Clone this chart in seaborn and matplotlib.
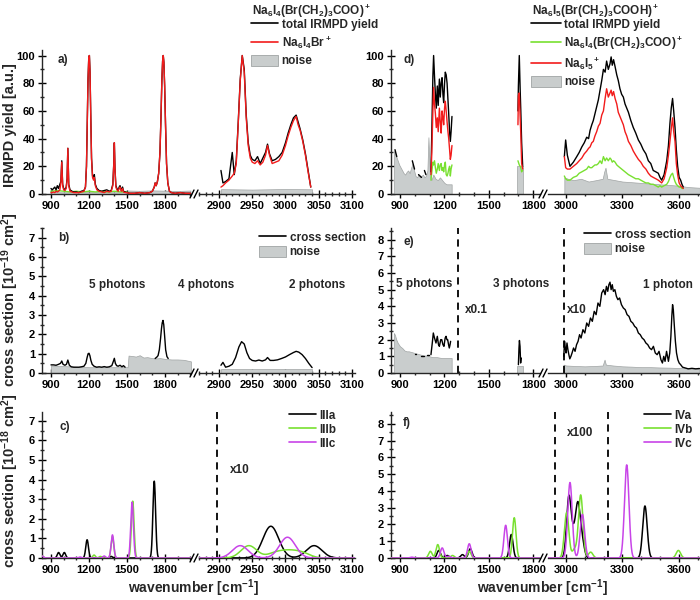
import numpy as np
import seaborn as sns
import matplotlib.pyplot as plt
from matplotlib.lines import Line2D
from matplotlib.patches import Patch
from matplotlib.ticker import FixedLocator, MultipleLocator

nan = np.nan

# ---------------- data ----------------
# a) Na6I4(Br(CH2)3COO)+  IRMPD yield
a1_wn = [900, 910, 920, 930, 940, 950, 960, 970, 978, 985,
         992, 1000, 1010, 1020, 1027, 1033, 1040, 1050, 1065, 1080,
         1100, 1120, 1140, 1160, 1172, 1180, 1186, 1192, 1198, 1203,
         1208, 1214, 1220, 1228, 1236, 1242, 1250, 1262, 1280, 1300,
         1320, 1340, 1360, 1375, 1388, 1395, 1400, 1405, 1412, 1420,
         1430, 1438, 1445, 1455, 1465, 1472, 1485, 1500, 1520, 1560,
         1600, 1640, 1680, 1700, 1715, 1722, 1730, 1740, 1750, 1760,
         1768, 1775, 1781, 1786, 1791, 1797, 1804, 1812, 1822, 1835,
         1850, 1880, 1920, 1960, 2000]
a1_frag = [1, 1, 1.5, 1, 2, 1.5, 2, 3, 8, 23,
           6, 3, 2.5, 4, 10, 33, 6, 2, 1.5, 1,
           1, 1, 1.5, 2, 5, 20, 50, 82, 98, 100,
           88, 55, 25, 12, 10, 12, 6, 3, 2, 1.5,
           1, 2, 1.5, 2, 6, 20, 37, 18, 5, 3,
           2, 4, 5, 2, 4, 1.5, 1, 1, 0.5, 0.5,
           1, 0.5, 1, 2, 5, 8, 6, 9, 15, 30,
           55, 82, 96, 100, 95, 78, 50, 22, 8, 2,
           1, 0.5, 1, 0.5, 0.5]
a1_total = [4, 3, 4, 5, 3, 6, 4, 7, 9, 24,
            7, 4, 3, 5, 11, 33, 7, 3, 2, 1.5,
            1.5, 1, 2, 2.5, 5, 20, 50, 82, 98, 100,
            88, 56, 26, 13, 11, 14, 7, 4, 2.5, 2,
            2.5, 3, 2, 2.5, 7, 21, 37, 18, 6, 4,
            2.5, 5, 6, 2.5, 5, 2, 1.5, 1, 0.5, 0.5,
            1, 0.5, 1, 2, 5, 8, 6, 9, 15, 30,
            55, 82, 96, 100, 95, 78, 50, 22, 8, 2,
            1, 0.5, 1, 0.5, 0.5]
a1_green_wn = [900, 950, 1000, 1050, 1100, 1150, 1200, 1250, 1300, 1350, 1400, 1450, 1500]
a1_green = [2, 2.5, 2, 1.5, 2, 1.5, 2, 1.5, 2, 1.5, 2, 1.5, 1.5]
a1_noise_wn = [900, 1000, 1100, 1200, 1300, 1400, 1500, 1510, 1600, 1700, 1800, 1900, 2000]
a1_noise = [1.5, 1.2, 1.5, 1.3, 1.5, 1.2, 1.4, 2.5, 2.3, 2.6, 2.4, 2.2, 2.5]

a2_wn = [2903, 2906, 2910, 2915, 2920, 2923, 2926, 2929, 2932, 2935,
         2938, 2941, 2944, 2947, 2950, 2954, 2958, 2962, 2966, 2970,
         2973, 2976, 2980, 2985, 2990, 2995, 3000, 3004, 3008, 3012,
         3016, 3019, 3022, 3026, 3030, 3034, 3038]
a2_frag = [5, 6, 8, 10, 13, 15, 22, 51, 82, 100,
           88, 55, 35, 26, 23, 22, 24, 21, 23, 28,
           35, 28, 22, 23, 24, 28, 35, 42, 48, 53,
           56, 50, 46, 38, 28, 16, 5]
a2_total = [17, 8, 9, 11, 30, 14, 24, 52, 83, 100,
            90, 57, 37, 28, 25, 24, 27, 22, 26, 30,
            36, 29, 24, 25, 27, 30, 37, 44, 50, 55,
            57, 52, 47, 39, 29, 17, 5]
a2_noise_wn = [2903, 2950, 3000, 3040]
a2_noise = [3.5, 3.2, 3.6, 3.4]

# b) cross section [1e-19 cm2]
b1_wn = [900, 920, 940, 960, 975, 985, 995, 1010, 1022, 1033,
         1045, 1060, 1080, 1100, 1120, 1140, 1160, 1175, 1185, 1193,
         1200, 1207, 1215, 1225, 1240, 1260, 1280, 1300, 1320, 1340,
         1360, 1380, 1392, 1400, 1408, 1418, 1430, 1445, 1460, 1472,
         1485, 1600, 1722, 1735, 1745, 1755, 1765, 1772, 1778, 1784,
         1790, 1797, 1805, 1815, 1825]
b1_cs = [0.42, 0.42, 0.4, 0.45, 0.5, 0.62, 0.45, 0.4, 0.45, 0.67,
         0.4, 0.32, 0.3, 0.3, 0.3, 0.32, 0.35, 0.5, 0.8, 1.0,
         1.02, 0.9, 0.65, 0.45, 0.35, 0.3, 0.32, 0.3, 0.33, 0.3,
         0.32, 0.38, 0.6, 0.76, 0.5, 0.38, 0.35, 0.4, 0.32, 0.38,
         0.3, nan, 0.75, 0.82, 0.9, 1.2, 1.8, 2.3, 2.6, 2.72,
         2.5, 1.9, 1.2, 0.85, 0.75]
b1_noise_wn = [900, 1000, 1100, 1200, 1300, 1400, 1505, 1512, 1540, 1570, 1600,
               1630, 1660, 1690, 1720, 1760, 1800, 1850, 1900, 1950, 2005]
b1_noise = [0.38, 0.36, 0.32, 0.3, 0.3, 0.3, 0.3, 0.9, 0.88, 0.85, 0.92,
            0.8, 0.82, 0.78, 0.75, 0.77, 0.73, 0.7, 0.7, 0.68, 0.6]
b2_wn = [2903, 2906, 2910, 2915, 2920, 2925, 2930, 2934, 2938, 2942,
         2946, 2950, 2955, 2960, 2965, 2970, 2973, 2977, 2982, 2988,
         2994, 3000, 3006, 3012, 3016, 3020, 3025, 3030, 3035, 3040]
b2_cs = [0.4, 0.55, 0.3, 0.35, 0.45, 0.8, 1.35, 1.62, 1.5, 1.05,
         0.75, 0.65, 0.62, 0.67, 0.62, 0.68, 0.8, 0.65, 0.65, 0.68,
         0.75, 0.83, 0.95, 1.06, 1.12, 1.08, 0.95, 0.75, 0.5, 0.28]
b2_noise_wn = [2903, 3040]
b2_noise = [0.22, 0.22]

# c) computed spectra III a/b/c [1e-18 cm2] (peak centre, height)
IIIa_pos = [960, 1005, 1185, 1375, 1715, 2978, 3043]
IIIa_amp = [0.28, 0.28, 0.93, 0.08, 3.92, 1.62, 0.63]
IIIb_pos = [830, 1240, 1290, 1385, 1545, 2945, 2985, 3005, 3025]
IIIb_amp = [0.1, 0.15, 0.08, 1.1, 2.9, 0.63, 0.25, 0.3, 0.25]
IIIc_pos = [830, 1130, 1320, 1385, 1540, 2932, 3003]
IIIc_amp = [0.1, 0.05, 0.1, 1.18, 2.85, 0.63, 1.06]

# d) Na6I5(Br(CH2)3COOH)+  IRMPD yield
d1_wn = [866, 878, 880, 983, 998, 1000, 1025, 1045, 1050, 1065,
         1075, 1090, 1109, 1115, 1122, 1127, 1133, 1139, 1145, 1152,
         1158, 1166, 1172, 1178, 1184, 1190, 1195, 1201, 1206, 1212,
         1218, 1224, 1229, 1235, 1240, 1245, 1251, 1500, 1697, 1700,
         1706, 1712, 1716, 1722, 1729]
d1_total = [32, 27, nan, 24, 18, nan, 14, 12, nan, 17,
            14, nan, 16, 45, 85, 100, 85, 72, 62, 78,
            64, 83, 70, 80, 84, 72, 66, 80, 88, 86,
            80, 68, 58, 45, 38, 45, 56, nan, 60, 78,
            100, 75, 61, 37, 20]
d1f_wn = [1109, 1115, 1122, 1127, 1133, 1139, 1145, 1152, 1158, 1166,
          1172, 1178, 1184, 1190, 1195, 1201, 1206, 1212, 1218, 1224,
          1229, 1235, 1240, 1245, 1251, 1500, 1697, 1700, 1706, 1712,
          1716, 1722, 1729]
d1_red = [14, 30, 60, 77, 65, 58, 48, 55, 45, 62,
          52, 44, 60, 55, 50, 62, 67, 60, 52, 45,
          40, 32, 25, 28, 35, nan, 50, 71, 73, 55,
          44, 22, 18]
d1_green = [10, 16, 23, 21, 24, 19, 15, 18, 22, 17,
            21, 22, 17, 19, 16, 21, 23, 14, 13, 15,
            18, 20, 13, 18, 21, nan, 24, 23, 21, 20,
            19, 16, 17]
d1_noise_wn = [858, 865, 875, 885, 895, 905, 915, 925, 935, 945,
               955, 965, 975, 985, 995, 1005, 1015, 1025, 1035, 1045,
               1055, 1065, 1075, 1085, 1092, 1098, 1104, 1112, 1125, 1140,
               1155, 1170, 1185, 1200, 1215, 1230, 1249]
d1_noise = [31, 30, 27, 24, 21, 19, 17, 15, 14, 16,
            17, 15, 19, 22, 17, 13, 12, 14, 12, 13,
            14, 12, 13, 17, 41, 25, 12, 10, 14, 11,
            10, 12, 10, 8, 7, 7, 7]
d1_noise2_wn = [1690, 1728]
d1_noise2 = [20, 20]

d2_wn = [2991, 2998, 3007, 3021, 3039, 3057, 3070, 3084, 3097, 3110,
         3120, 3128, 3137, 3145, 3154, 3163, 3172, 3181, 3190, 3199,
         3208, 3216, 3225, 3234, 3240, 3246, 3253, 3261, 3270, 3278,
         3287, 3296, 3305, 3314, 3323, 3332, 3345, 3358, 3371, 3385,
         3398, 3411, 3425, 3438, 3451, 3464, 3478, 3491, 3500, 3509,
         3522, 3536, 3545, 3553, 3560, 3567, 3573, 3580, 3587, 3594,
         3602, 3610, 3617, 3624]
d2_total = [27, 39, 28, 20, 23, 27, 30, 34, 37, 41,
            40, 46, 50, 53, 58, 63, 68, 75, 82, 90,
            88, 96, 90, 94, 99, 93, 97, 92, 86, 82,
            76, 72, 70, 65, 62, 59, 53, 48, 44, 39,
            36, 32, 29, 24, 22, 17, 16, 15, 12, 10,
            14, 24, 35, 51, 62, 69, 60, 48, 32, 20,
            12, 10, 7, 5]
d2_red = [27, 19, 18, 18, 20, 22, 24, 26, 29, 31,
          33, 34, 37, 38, 42, 45, 49, 51, 57, 60,
          69, 76, 70, 73, 75, 71, 74, 69, 65, 59,
          56, 53, 50, 45, 42, 38, 35, 31, 28, 25,
          23, 20, 18, 15, 13, 12, 11, 10, 9, 8,
          11, 19, 28, 38, 47, 55, 45, 38, 22, 14,
          8, 6, 5, 4]
d2_green = [13, 11, 10, 10, 12, 13, 15, 16, 17, 18,
            20, 19, 19, 20, 21, 21, 22, 24, 22, 27,
            24, 26, 24, 26, 25, 23, 24, 23, 21, 20,
            19, 18, 17, 16, 15, 14, 13, 12, 11, 11,
            10, 9, 8, 8, 7, 7, 6, 5, 6, 5,
            6, 7, 9, 12, 14, 15, 12, 9, 7, 6,
            5, 5, 4, 4]
d2_noise_wn = [2991, 3010, 3040, 3080, 3120, 3160, 3195, 3203, 3210, 3220,
               3260, 3300, 3350, 3400, 3450, 3500, 3550, 3600, 3650, 3712]
d2_noise = [12, 11, 10, 11, 9, 10, 11, 16, 19, 11,
            10, 9, 8.5, 8, 7.5, 7, 6.5, 6, 5, 4.5]

# e) cross section [1e-19 cm2]
e1_wn = [1000, 1010, 1020, 1045, 1060, 1070, 1085, 1095, 1102, 1109,
         1118, 1125, 1133, 1143, 1152, 1160, 1166, 1175, 1182, 1190,
         1197, 1205, 1211, 1217, 1222, 1228, 1233, 1238, 1242, 1500,
         1700, 1704, 1707, 1711, 1715, 1719]
e1_cs = [1.15, 1.15, nan, 1.05, 1.05, nan, 1.1, 1.1, nan, 1.1,
         1.8, 2.4, 2.1, 1.8, 2.2, 1.7, 1.6, 2.0, 2.0, 1.7,
         1.6, 2.1, 2.2, 2.0, 2.0, 1.7, 1.5, 1.7, 1.9, nan,
         0.5, 1.5, 1.95, 1.6, 0.6, 0.9]
e1_noise_wn = [858, 865, 875, 885, 900, 915, 930, 945, 960, 980, 1000,
               1020, 1040, 1060, 1080, 1100, 1120, 1150, 1180, 1210, 1249]
e1_noise = [2.4, 2.3, 2.0, 1.8, 1.6, 1.5, 1.35, 1.3, 1.3, 1.25, 1.2,
            1.15, 1.1, 1.05, 1.05, 1.0, 0.95, 0.95, 0.9, 0.9, 0.9]
e1_noise2_wn = [1690, 1728]
e1_noise2 = [0.45, 0.45]
e2_wn = [2988, 2992, 2996, 3000, 3005, 3010, 3015, 3020, 3026, 3032,
         3040, 3048, 3056, 3064, 3072, 3080, 3090, 3100, 3110, 3120,
         3130, 3140, 3150, 3160, 3170, 3180, 3190, 3200, 3208, 3215,
         3222, 3228, 3234, 3240, 3246, 3252, 3260, 3268, 3276, 3285,
         3295, 3305, 3315, 3325, 3335, 3345, 3355, 3365, 3375, 3385,
         3395, 3405, 3415, 3425, 3435, 3445, 3455, 3465, 3475, 3485,
         3495, 3505, 3513, 3520, 3527, 3535, 3545, 3552, 3558, 3563,
         3567, 3571, 3576, 3582, 3588, 3595, 3602, 3610, 3620, 3635,
         3650, 3670, 3690, 3710]
e2_cs = [1.0, 1.9, 1.5, 1.2, 1.8, 1.4, 1.1, 0.85, 1.0, 1.2,
         1.5, 1.3, 1.7, 1.9, 2.3, 2.1, 2.6, 2.4, 3.0, 2.8,
         3.3, 3.1, 3.7, 3.5, 4.2, 4.0, 4.8, 5.0, 4.7, 5.2,
         4.9, 5.3, 5.45, 5.0, 5.3, 4.9, 5.0, 4.6, 4.4, 4.5,
         4.1, 3.9, 3.8, 3.5, 3.4, 3.1, 3.0, 2.8, 2.7, 2.4,
         2.3, 2.1, 2.0, 1.8, 1.7, 1.5, 1.4, 1.6, 1.2, 1.1,
         1.3, 0.8, 0.6, 1.0, 0.7, 1.3, 0.7, 1.2, 2.2, 3.4,
         4.1, 3.8, 2.9, 1.9, 1.2, 0.8, 0.6, 0.5, 0.35, 0.3,
         0.25, 0.28, 0.25, 0.27]
e2_noise_wn = [2988, 3000, 3050, 3100, 3150, 3195, 3205, 3212, 3250, 3300,
               3350, 3400, 3450, 3500, 3550, 3600, 3650, 3710]
e2_noise = [0.5, 0.45, 0.42, 0.4, 0.42, 0.45, 0.8, 0.5, 0.45, 0.4,
            0.38, 0.35, 0.35, 0.33, 0.32, 0.3, 0.28, 0.25]

# f) computed spectra IV a/b/c [1e-18 cm2] (peak centre, height)
IVa_pos = [1162, 1220, 1322, 1375, 1652, 3015, 3040, 3063, 3085, 3420]
IVa_amp = [0.45, 0.15, 0.2, 0.55, 1.4, 3.6, 1.2, 3.0, 1.0, 3.1]
IVb_pos = [1105, 1155, 1255, 1368, 1672, 3003, 3045, 3078, 3131, 3598]
IVb_amp = [0.4, 0.8, 0.15, 0.4, 2.4, 2.7, 0.5, 3.75, 0.35, 0.45]
IVc_pos = [980, 1185, 1230, 1368, 1614, 3021, 3087, 3323]
IVc_amp = [0.05, 0.6, 0.1, 0.85, 1.95, 4.5, 2.6, 5.55]

# ---------------- style ----------------
RED = "#f21b1b"
GREEN = "#78e030"
MAGENTA = "#c844e8"
NOISE = "#c9cdcd"
NOISE_EDGE = "#a0a4a4"

sns.set_style("ticks")
plt.rcParams['font.family'] = ['Liberation Sans', 'DejaVu Sans']
plt.rcParams['font.weight'] = 'bold'
plt.rcParams['mathtext.fontset'] = 'custom'
plt.rcParams['mathtext.rm'] = 'Liberation Sans:bold'
plt.rcParams['mathtext.it'] = 'Liberation Sans:bold'
plt.rcParams['mathtext.bf'] = 'Liberation Sans:bold'
plt.rcParams['mathtext.default'] = 'bf'
plt.rcParams['axes.linewidth'] = 1.0

W, H = 700, 600
fig = plt.figure(figsize=(7, 6), dpi=100)
fig.patch.set_facecolor('white')


def fx(px):
    return px / W


def fy(py):
    return 1 - py / H


def draw(ax, x, y, color, lw=1.0, z=3):
    x = np.asarray(x, float)
    y = np.asarray(y, float)
    idx = np.where(~np.isnan(y))[0]
    runs = np.split(idx, np.where(np.diff(idx) > 1)[0] + 1)
    for run in runs:
        if len(run) > 1:
            sns.lineplot(x=x[run], y=y[run], ax=ax, color=color, linewidth=lw,
                         sort=False, estimator=None, legend=False, zorder=z)


def noise(ax, x, y):
    ax.fill_between(x, 0, y, facecolor=NOISE, edgecolor=NOISE_EDGE, linewidth=0.5, zorder=2)


def spectrum(grid, pos, amp, fwhm):
    s = fwhm / 2.3548
    out = np.zeros_like(grid)
    for p, a in zip(pos, amp):
        out += a * np.exp(-(grid - p) ** 2 / (2 * s * s))
    return out


LEFT = [(42, 191, (829, 2005), [900, 1200, 1500, 1800], 100),
        (199, 355, (2870, 3104.5), [2900, 2950, 3000, 3050, 3100], 10)]
RIGHT = [(391, 540, (839, 1846), [900, 1200, 1500, 1800], 100),
         (548, 700, (2904, 3713), [3000, 3300, 3600], 100)]
ROWS = [(50, 194), (228, 373), (412, 558)]


def make_pair(cols, row, ylim, ymaj, ymin):
    y0, y1 = ROWS[row]
    axes = []
    for i, (x0, x1, xl, xt, xm) in enumerate(cols):
        ax = fig.add_axes([fx(x0), fy(y1), (x1 - x0) / W, (y1 - y0) / H])
        ax.set_xlim(*xl)
        ax.set_ylim(*ylim)
        ax.xaxis.set_major_locator(FixedLocator(xt))
        ax.xaxis.set_minor_locator(MultipleLocator(xm))
        ax.yaxis.set_major_locator(MultipleLocator(ymaj))
        ax.yaxis.set_minor_locator(MultipleLocator(ymin))
        ax.tick_params(which='major', direction='inout', length=6, width=1,
                       labelsize=8, pad=2, colors='black')
        ax.tick_params(which='minor', direction='inout', length=3.5, width=1)
        ax.spines['top'].set_visible(False)
        ax.spines['right'].set_visible(False)
        ax.set_facecolor('none')
        if i == 1:
            ax.spines['left'].set_visible(False)
            ax.tick_params(axis='y', which='both', left=False, labelleft=False)
        ax.set_xlabel('')
        ax.set_ylabel('')
        axes.append(ax)
    # break marks on the x axis
    xa = cols[0][1]
    for off in (-1, 3):
        fig.add_artist(Line2D([fx(xa + off), fx(xa + off + 4)], [fy(y1 + 4), fy(y1 - 4)],
                              color='black', lw=1.0, transform=fig.transFigure))
    return axes


# ---- a)
a1, a2 = make_pair(LEFT, 0, (0, 104), 20, 10)
noise(a1, a1_noise_wn, a1_noise)
draw(a1, a1_green_wn, a1_green, GREEN)
draw(a1, a1_wn, a1_total, 'black')
draw(a1, a1_wn, a1_frag, RED)
noise(a2, a2_noise_wn, a2_noise)
draw(a2, a2_wn, a2_total, 'black')
draw(a2, a2_wn, a2_frag, RED)

# ---- b)
b1, b2 = make_pair(LEFT, 1, (0, 7.5), 1, 0.5)
noise(b1, b1_noise_wn, b1_noise)
draw(b1, b1_wn, b1_cs, 'black')
noise(b2, b2_noise_wn, b2_noise)
draw(b2, b2_wn, b2_cs, 'black')

# ---- c)
c1, c2 = make_pair(LEFT, 2, (0, 7.45), 1, 0.5)
g1 = np.arange(829, 2006, 1.0)
g2 = np.arange(2870, 3105, 0.5)
for pos, amp, col in [(IIIa_pos, IIIa_amp, 'black'), (IIIb_pos, IIIb_amp, GREEN),
                      (IIIc_pos, IIIc_amp, MAGENTA)]:
    draw(c1, g1, spectrum(g1, pos, amp, 25), col, lw=1.1)
    draw(c2, g2, spectrum(g2, pos, amp, 28), col, lw=1.1)
c2.axvline(2897, color='black', lw=1.3, ls=(0, (4, 3)))

# ---- d)
d1, d2 = make_pair(RIGHT, 0, (0, 104), 20, 10)
noise(d1, d1_noise_wn, d1_noise)
noise(d1, d1_noise2_wn, d1_noise2)
draw(d1, d1_wn, d1_total, 'black')
draw(d1, d1f_wn, d1_green, GREEN)
draw(d1, d1f_wn, d1_red, RED)
noise(d2, d2_noise_wn, d2_noise)
draw(d2, d2_wn, d2_total, 'black')
draw(d2, d2_wn, d2_green, GREEN)
draw(d2, d2_wn, d2_red, RED)

# ---- e)
e1, e2 = make_pair(RIGHT, 1, (0, 8.7), 1, 0.5)
noise(e1, e1_noise_wn, e1_noise)
noise(e1, e1_noise2_wn, e1_noise2)
draw(e1, e1_wn, e1_cs, 'black')
noise(e2, e2_noise_wn, e2_noise)
draw(e2, e2_wn, e2_cs, 'black')
e1.axvline(1295, color='black', lw=1.3, ls=(0, (4, 3)))
e2.axvline(2988, color='black', lw=1.3, ls=(0, (4, 3)))

# ---- f)
f1, f2 = make_pair(RIGHT, 2, (0, 8.7), 1, 0.5)
h1 = np.arange(839, 1847, 1.0)
h2 = np.arange(2904, 3714, 1.0)
for pos, amp, col in [(IVa_pos, IVa_amp, 'black'), (IVb_pos, IVb_amp, GREEN),
                      (IVc_pos, IVc_amp, MAGENTA)]:
    draw(f1, h1, spectrum(h1, pos, amp, 28), col, lw=1.1)
    draw(f2, h2, spectrum(h2, pos, amp, 28), col, lw=1.1)
f2.axvline(2941, color='black', lw=1.3, ls=(0, (4, 3)))
f2.axvline(3225, color='black', lw=1.3, ls=(0, (4, 3)))

# ---------------- text ----------------
T = dict(fontsize=8.5, fontweight='bold', va='center')
for lab, px, py in [('a)', 58, 60), ('d)', 403, 60), ('b)', 58, 238),
                    ('e)', 403, 242), ('c)', 60, 427), ('f)', 403, 423)]:
    fig.text(fx(px), fy(py), lab, ha='left', **T)
for lab, px, py in [('5 photons', 117, 285), ('4 photons', 206, 285), ('2 photons', 317, 285),
                    ('5 photons', 424, 284), ('3 photons', 521, 284), ('1 photon', 668, 285),
                    ('x0.1', 476, 310), ('x10', 577, 310), ('x10', 240, 470), ('x100', 580, 433)]:
    fig.text(fx(px), fy(py), lab, ha='center', **T)

YL = dict(fontsize=10.5, fontweight='bold', rotation=90, ha='center', va='center')
fig.text(fx(10), fy(125), 'IRMPD yield [a.u.]', **YL)
fig.text(fx(10), fy(300), r'cross section [10$^{-19}$ cm$^{2}$]', **YL)
fig.text(fx(10), fy(481), r'cross section [10$^{-18}$ cm$^{2}$]', **YL)
fig.text(fx(193), fy(588), r'wavenumber [cm$^{-1}$]', fontsize=10, ha='center', va='center')
fig.text(fx(542), fy(588), r'wavenumber [cm$^{-1}$]', fontsize=10, ha='center', va='center')

# legends
fig.text(fx(252), fy(11), r'Na$_6$I$_4$(Br(CH$_2$)$_3$COO)$^+$', ha='left', **T)
fig.text(fx(532), fy(11), r'Na$_6$I$_5$(Br(CH$_2$)$_3$COOH)$^+$', ha='left', **T)


def line_h(c):
    return Line2D([], [], color=c, lw=1.2)


def noise_h():
    return Patch(facecolor=NOISE, edgecolor=NOISE_EDGE, linewidth=0.6)


LG = dict(loc='upper left', frameon=False, fontsize=8.5, handletextpad=0.3,
          borderpad=0, borderaxespad=0, handleheight=1.15)
fig.legend([line_h('black'), line_h(RED), noise_h()],
           ['total IRMPD yield', r'Na$_6$I$_4$Br$^+$', 'noise'],
           bbox_to_anchor=(fx(251), fy(18)), handlelength=2.3, labelspacing=0.3, **LG)
fig.legend([line_h('black'), line_h(GREEN), line_h(RED), noise_h()],
           ['total IRMPD yield', r'Na$_6$I$_4$(Br(CH$_2$)$_3$COO)$^+$', r'Na$_6$I$_5$$^+$', 'noise'],
           bbox_to_anchor=(fx(531), fy(18)), handlelength=2.5, labelspacing=0.3, **LG)
fig.legend([line_h('black'), noise_h()], ['cross section', 'noise'],
           bbox_to_anchor=(fx(259), fy(231)), handlelength=2.3, labelspacing=0.15, **LG)
fig.legend([line_h('black'), noise_h()], ['cross section', 'noise'],
           bbox_to_anchor=(fx(584), fy(228)), handlelength=2.3, labelspacing=0.15, **LG)
fig.legend([line_h('black'), line_h(GREEN), line_h(MAGENTA)], ['IIIa', 'IIIb', 'IIIc'],
           bbox_to_anchor=(fx(289), fy(409)), handlelength=2.3, labelspacing=0.1, **LG)
fig.legend([line_h('black'), line_h(GREEN), line_h(MAGENTA)], ['IVa', 'IVb', 'IVc'],
           bbox_to_anchor=(fx(644), fy(409)), handlelength=2.3, labelspacing=0.1, **LG)

fig.savefig('out.png', dpi=100)
